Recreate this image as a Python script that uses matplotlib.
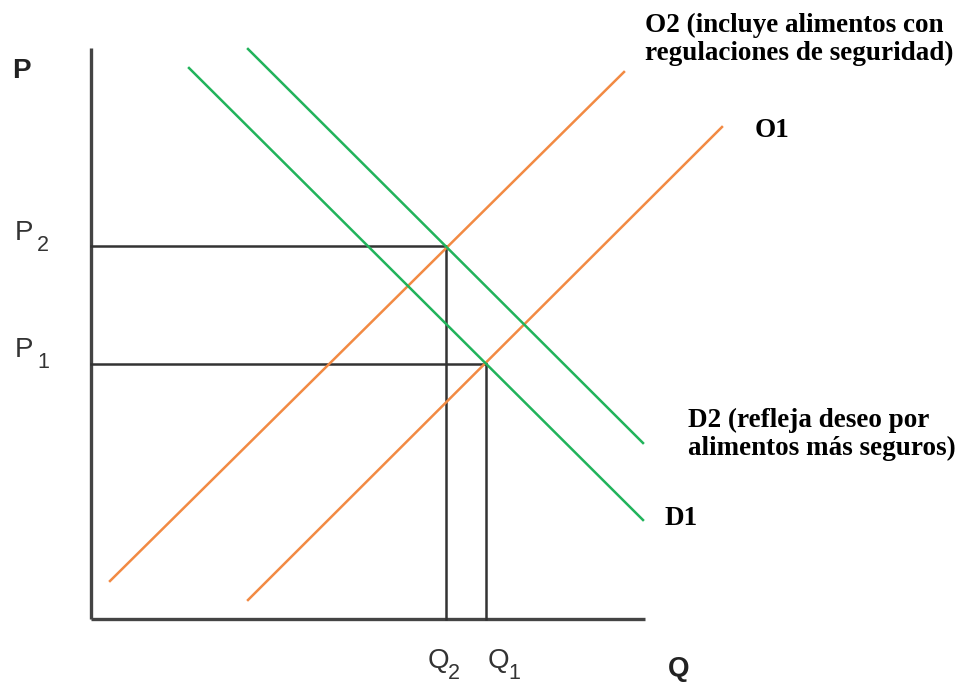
import matplotlib
matplotlib.use("Agg")
import matplotlib.pyplot as plt

# Curve endpoints (quantity, price), origin at the axis corner
o1_q = [157, 631]
o1_p = [19, 492]
o2_q = [19, 533]
o2_p = [38, 547]
d1_q = [98, 552]
d1_p = [551, 99]
d2_q = [157, 552]
d2_p = [570, 176]

# equilibria
eq_q = [395, 355]   # Q1, Q2
eq_p = [255, 373]   # P1, P2

q_max = 554
p_max = 571

ORANGE = "#F28A43"
GREEN = "#21B35B"
DARK = "#333333"

plt.rcParams["font.family"] = ["Liberation Sans", "DejaVu Sans"]

fig = plt.figure(figsize=(9.7, 6.83), dpi=100)
ax = fig.add_axes([0, 0, 1, 1])
ax.set_xlim(-91, 879)
ax.set_ylim(-64, 619)
ax.axis("off")

# axes
ax.plot([0, 0], [0, p_max], color="#444444", lw=2.4, solid_capstyle="butt")
ax.plot([0, q_max], [0, 0], color="#444444", lw=2.4, solid_capstyle="butt")

# guides
for q, p in zip(eq_q, eq_p):
    ax.plot([0, q], [p, p], color=DARK, lw=1.8)
    ax.plot([q, q], [0, p], color=DARK, lw=1.8)

# curves
ax.plot(o1_q, o1_p, color=ORANGE, lw=1.8)
ax.plot(o2_q, o2_p, color=ORANGE, lw=1.8)
ax.plot(d1_q, d1_p, color=GREEN, lw=1.8)
ax.plot(d2_q, d2_p, color=GREEN, lw=1.8)


def sub_label(x, y, base, sub, dx):
    # base letter plus a lowered subscript, in data (pixel-sized) units
    ax.text(x, y, base, fontsize=20, color="#333333", va="baseline")
    ax.text(x + dx, y - 11, sub, fontsize=15.5, color="#333333", va="baseline")


# axis labels
ax.text(-79, 541, "P", fontsize=20, fontweight="bold", color="#222222", va="baseline")
ax.text(577, -57, "Q", fontsize=20, fontweight="bold", color="#222222", va="baseline")
sub_label(-76, 379, "P", "2", 22)
sub_label(-76, 262, "P", "1", 22)
sub_label(337, -49, "Q", "2", 20)
sub_label(397, -49, "Q", "1", 20)

serif = dict(family="Liberation Serif", fontweight="bold", fontsize=19.5,
             color="black", va="baseline")
ax.text(554, 587, "O2 (incluye alimentos con", **serif)
ax.text(554, 559, "regulaciones de seguridad)", **serif)
ax.text(664, 482, "O1", **serif)
ax.text(597, 192, "D2 (refleja deseo por", **serif)
ax.text(597, 164, "alimentos más seguros)", **serif)
ax.text(574, 94, "D1", **serif)

fig.savefig("out.png", dpi=100)
